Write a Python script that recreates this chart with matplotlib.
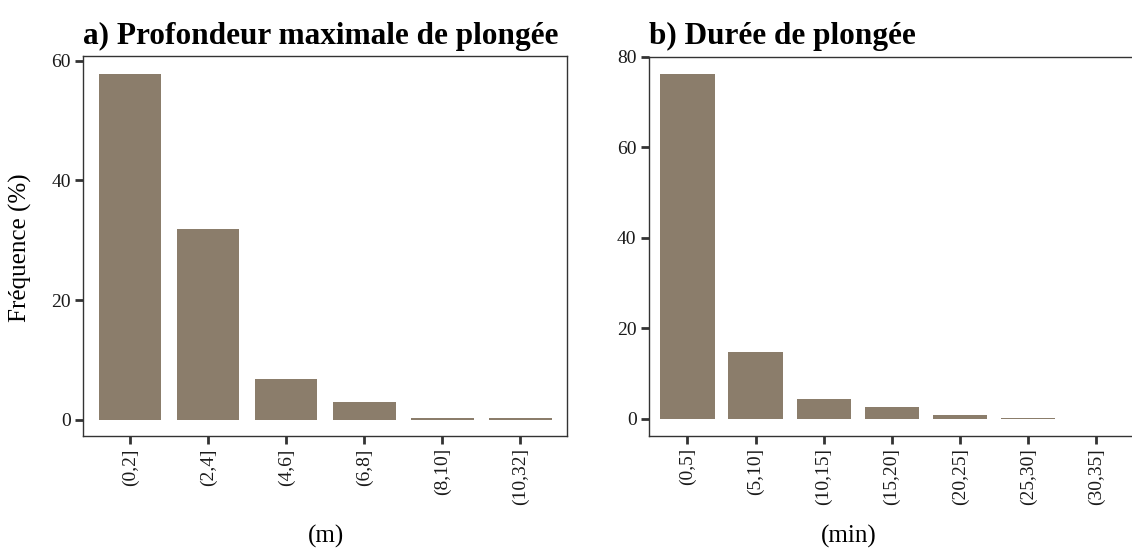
import matplotlib.pyplot as plt

plt.rcParams['font.family'] = ['Liberation Serif', 'DejaVu Serif']

# maximum dive depth classes (m)
depth_bins = ['(0,2]', '(2,4]', '(4,6]', '(6,8]', '(8,10]', '(10,32]']
depth_freq = [57.8, 31.9, 6.75, 2.9, 0.3, 0.3]

# dive duration classes (min)
dur_bins = ['(0,5]', '(5,10]', '(10,15]', '(15,20]', '(20,25]', '(25,30]', '(30,35]']
dur_freq = [76.3, 14.9, 4.5, 2.7, 0.95, 0.3, 0.1]

bar_col = '#8B7D6B'
edge = '#333333'

W, H = 1132, 550
fig = plt.figure(figsize=(W / 100, H / 100), dpi=100)


def px_axes(x0, x1, y0, y1):
    return fig.add_axes([x0 / W, 1 - y1 / H, (x1 - x0) / W, (y1 - y0) / H])


def style(ax, labels, yticks):
    pos = range(1, len(labels) + 1)
    ax.set_xticks(list(pos))
    ax.set_xticklabels(labels, rotation=90)
    ax.set_yticks(yticks)
    ax.tick_params(axis='both', direction='out', length=6, width=2.0,
                   color=edge, labelsize=14, labelcolor='#1a1a1a', pad=3)
    for sp in ax.spines.values():
        sp.set_color(edge)
        sp.set_linewidth(1.0)


ax1 = px_axes(83.3, 567.3, 56, 435.7)
ax1.bar(range(1, len(depth_bins) + 1), depth_freq, width=0.8, color=bar_col)
ax1.set_xlim(0.4, len(depth_bins) + 0.6)
ax1.set_ylim(-2.65, 60.8)
style(ax1, depth_bins, [0, 20, 40, 60])
ax1.set_title('a) Profondeur maximale de plongée', loc='left',
              fontsize=22.5, fontweight='bold', pad=9)

ax2 = px_axes(649, 649 + 7.2 * 67.8, 56.5, 435.7)
ax2.bar(range(1, len(dur_bins) + 1), dur_freq, width=0.8, color=bar_col)
ax2.set_xlim(0.435, len(dur_bins) + 0.6)
ax2.set_ylim(-3.7, 80.1)
style(ax2, dur_bins, [0, 20, 40, 60, 80])
ax2.set_title('b) Durée de plongée', loc='left',
              fontsize=22.5, fontweight='bold', pad=9)

# axis titles
fig.text(20 / W, 1 - 248 / H, 'Fréquence (%)', rotation=90,
         ha='center', va='center', fontsize=18)
fig.text(326 / W, 1 - 536 / H, '(m)', ha='center', va='center', fontsize=18)
fig.text(849 / W, 1 - 536 / H, '(min)', ha='center', va='center', fontsize=18)

fig.savefig('out.png', dpi=100)
